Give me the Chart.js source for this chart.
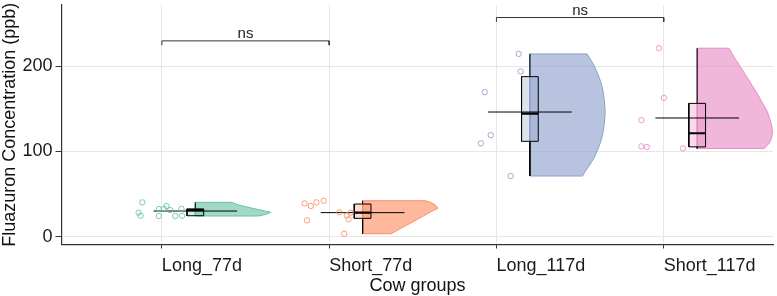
<!DOCTYPE html>
<html><head><meta charset="utf-8">
<script src="https://cdn.jsdelivr.net/npm/chart.js@4"></script>
<style>html,body{margin:0;padding:0;background:#fff}#wrap{width:777px;height:296px;position:relative}</style>
</head><body><div id="wrap"><canvas id="c"></canvas></div>
<script>
// ---- data ----
const categories = ['Long_77d', 'Short_77d', 'Long_117d', 'Short_117d'];
const yTicks = [0, 100, 200];

const long77  = [40.3, 28.1, 24.6, 32.5, 24.3, 32.5, 36.0, 31.3, 24.3, 32.8, 24.6];
const short77 = [39.1, 36.0, 40.3, 42.2, 19.2, 28.6, 25.0, 20.4, 28.1, 3.5];
const long117 = [214.5, 193.9, 169.6, 119.2, 109.5, 71.2];
const short117 = [221.2, 163.0, 136.8, 106.0, 105.2, 103.6];

// horizontal jitter of each point (category units)
const long77Jitter  = [-0.117, -0.139, -0.127, -0.018, -0.018, 0.012, 0.028, 0.050, 0.080, 0.117, 0.121];
const short77Jitter = [-0.147, -0.110, -0.076, -0.033, -0.132, 0.061, 0.106, 0.116, 0.128, 0.090];
const long117Jitter = [0.133, 0.145, -0.070, -0.034, -0.093, 0.085];
const short117Jitter = [-0.029, 0.001, -0.134, -0.134, -0.101, 0.115];

// half-violin density profiles: concentration levels and relative widths
const long77ViolinY  = [24.3, 26.0, 27.3, 28.6, 30, 32, 34, 36, 38, 40.3];
const long77ViolinW  = [0.84, 0.93, 0.97, 1.0, 0.93, 0.83, 0.73, 0.63, 0.55, 0.49];
const short77ViolinY = [3.5, 8, 12, 16, 20, 24, 27.4, 30, 33.3, 36, 38, 40, 41.3, 42.2];
const short77ViolinW = [0.38, 0.47, 0.55, 0.64, 0.72, 0.80, 0.87, 0.92, 1.0, 0.98, 0.95, 0.91, 0.87, 0.83];
const long117ViolinY = [71.2, 76, 82.2, 92, 101.8, 111, 121.3, 134, 146.5, 159, 172.2, 182, 191.6, 203, 214.5];
const long117ViolinW = [0.70, 0.73, 0.78, 0.85, 0.90, 0.94, 0.97, 0.99, 1.0, 0.99, 0.97, 0.94, 0.90, 0.84, 0.76];
const short117ViolinY = [103.6, 107, 111.5, 117, 123.2, 130, 137, 147, 156.6, 166, 176, 186, 195.7, 208, 221.2];
const short117ViolinW = [0.89, 0.93, 0.97, 0.99, 1.0, 0.99, 0.97, 0.93, 0.87, 0.81, 0.74, 0.67, 0.60, 0.51, 0.42];

// significance brackets
const bracketFrom = [1, 3];
const bracketTo = [2, 4];
const bracketY = [229.8, 257.2];
const bracketText = ['ns', 'ns'];

// ---- styling ----
const colors = ['#66C2A5', '#FC8D62', '#8DA0CB', '#E78AC3'];
const FONT = "'Liberation Sans', Arial, sans-serif";
function rgba(hex, a) {
  const n = parseInt(hex.slice(1), 16);
  return `rgba(${(n >> 16) & 255},${(n >> 8) & 255},${n & 255},${a})`;
}
const BOX_OFF = 0.2, BOX_HALF = 0.05, MEAN_HALF = 0.25, VIOLIN_W = 0.45, TIP = 5;

function quantile(sorted, p) {
  const pos = (sorted.length - 1) * p, lo = Math.floor(pos), hi = Math.ceil(pos);
  return sorted[lo] + (sorted[hi] - sorted[lo]) * (pos - lo);
}

const groups = [
  {vals: long77, jit: long77Jitter, vy: long77ViolinY, vw: long77ViolinW},
  {vals: short77, jit: short77Jitter, vy: short77ViolinY, vw: short77ViolinW},
  {vals: long117, jit: long117Jitter, vy: long117ViolinY, vw: long117ViolinW},
  {vals: short117, jit: short117Jitter, vy: short117ViolinY, vw: short117ViolinW},
];

const datasets = [];
const lineBase = {pointRadius: 0, pointHoverRadius: 0, tension: 0, showLine: true, fill: false, spanGaps: false};

groups.forEach((g, i) => {
  const c = i + 1, col = colors[i], base = c + BOX_OFF;
  const s = [...g.vals].sort((a, b) => a - b);
  const q1 = quantile(s, 0.25), med = quantile(s, 0.5), q3 = quantile(s, 0.75), iqr = q3 - q1;
  const hi = Math.max(...s.filter(v => v <= q3 + 1.5 * iqr));
  const lo = Math.min(...s.filter(v => v >= q1 - 1.5 * iqr));
  const mean = g.vals.reduce((a, b) => a + b, 0) / g.vals.length;

  // violin
  const vpts = [{x: base, y: g.vy[0]}];
  g.vy.forEach((y, k) => vpts.push({x: base + g.vw[k] * VIOLIN_W, y}));
  vpts.push({x: base, y: g.vy[g.vy.length - 1]});
  vpts.push({x: base, y: g.vy[0]});
  datasets.push({...lineBase, data: vpts, fill: 'shape', backgroundColor: rgba(col, 0.62),
    borderColor: col, borderWidth: 1, order: 20});

  // whiskers
  datasets.push({...lineBase, data: [{x: base, y: q3}, {x: base, y: hi}, {x: base, y: null}, {x: base, y: q1}, {x: base, y: lo}],
    borderColor: '#000', borderWidth: 1, order: 15});

  // box
  datasets.push({...lineBase, data: [
      {x: base - BOX_HALF, y: q1}, {x: base + BOX_HALF, y: q1}, {x: base + BOX_HALF, y: q3},
      {x: base - BOX_HALF, y: q3}, {x: base - BOX_HALF, y: q1}],
    fill: 'shape', backgroundColor: rgba(col, 0.3), borderColor: '#000', borderWidth: 1, order: 10});

  // median
  datasets.push({...lineBase, data: [{x: base - BOX_HALF, y: med}, {x: base + BOX_HALF, y: med}],
    borderColor: '#000', borderWidth: 2.2, order: 8});

  // mean line
  datasets.push({...lineBase, data: [{x: base - MEAN_HALF, y: mean}, {x: base + MEAN_HALF, y: mean}],
    borderColor: '#000', borderWidth: 1, order: 6});

  // raw points
  datasets.push({data: g.vals.map((v, k) => ({x: c + g.jit[k], y: v})), showLine: false,
    pointRadius: 2.7, pointHoverRadius: 2.7, pointStyle: 'circle', pointBorderWidth: 1,
    pointBackgroundColor: 'rgba(255,255,255,0)', pointBorderColor: rgba(col, 0.85), order: 4});
});

// brackets
bracketY.forEach((y, k) => {
  datasets.push({...lineBase, data: [
      {x: bracketFrom[k], y: y - TIP}, {x: bracketFrom[k], y}, {x: bracketTo[k], y}, {x: bracketTo[k], y: y - TIP}],
    borderColor: '#333', borderWidth: 1, order: 1});
});

const bracketLabelPlugin = {
  id: 'bracketLabels',
  afterDatasetsDraw(chart) {
    const {ctx, scales: {x, y}} = chart;
    ctx.save();
    ctx.fillStyle = '#222';
    ctx.font = `15px ${FONT}`;
    ctx.textAlign = 'center';
    ctx.textBaseline = 'alphabetic';
    bracketY.forEach((v, k) => {
      const px = x.getPixelForValue((bracketFrom[k] + bracketTo[k]) / 2);
      ctx.fillText(bracketText[k], px, y.getPixelForValue(v) - 2.5);
    });
    ctx.restore();
  }
};

new Chart(document.getElementById('c'), {
  type: 'line',
  data: {datasets},
  plugins: [bracketLabelPlugin],
  options: {
    responsive: true, maintainAspectRatio: false, animation: false,
    layout: {padding: {top: 5, left: 0, right: 0, bottom: 0}},
    plugins: {legend: {display: false}, tooltip: {enabled: false}},
    events: [],
    scales: {
      x: {
        type: 'linear', min: 0.4, max: 4.655,
        afterBuildTicks: s => { s.ticks = categories.map((_, i) => ({value: i + 1})); },
        afterFit: s => { s.height = 51.5; s.paddingLeft = 0; s.paddingRight = 0; },
        ticks: {callback: (v, i) => categories[i], align: 'start', padding: 8, maxRotation: 0, autoSkip: false,
          color: '#1a1a1a', font: {family: FONT, size: 18, lineHeight: 1.1}},
        grid: {color: '#e6e6e6', lineWidth: 1, drawTicks: true, tickLength: 4, tickColor: '#333', tickWidth: 1},
        border: {display: true, color: '#333', width: 1.2},
        title: {display: true, text: 'Cow groups', color: '#111', padding: {top: 0, bottom: 0},
          font: {family: FONT, size: 18, lineHeight: 1.1}}
      },
      y: {
        type: 'linear', min: -9.15, max: 271.9,
        afterBuildTicks: s => { s.ticks = yTicks.map(v => ({value: v})); },
        afterFit: s => { s.width = 61.5; s.paddingTop = 0; s.paddingBottom = 0; },
        ticks: {padding: 3, color: '#1a1a1a', font: {family: FONT, size: 18, lineHeight: 1.1}},
        grid: {color: '#e6e6e6', lineWidth: 1, drawTicks: true, tickLength: 6, tickColor: '#333', tickWidth: 1},
        border: {display: true, color: '#333', width: 1.2},
        title: {display: true, text: 'Fluazuron Concentration (ppb)', color: '#111', padding: {top: 0, bottom: 0},
          font: {family: FONT, size: 18, lineHeight: 1.1}}
      }
    }
  }
});
</script></body></html>
